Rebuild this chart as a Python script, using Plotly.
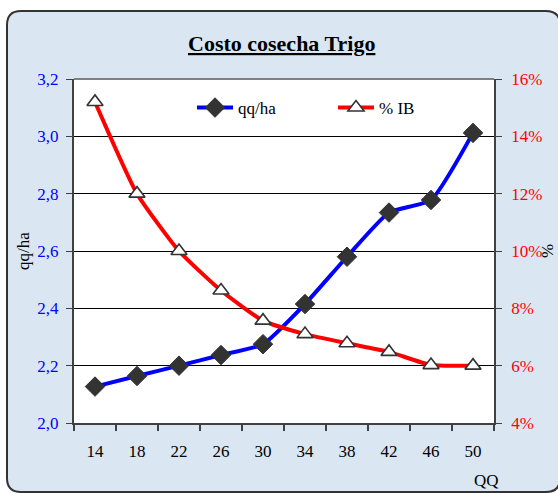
import plotly.graph_objects as go

# ---- data ----
QQ = [14, 18, 22, 26, 30, 34, 38, 42, 46, 50]
qq_ha = [2.127, 2.164, 2.200, 2.237, 2.275, 2.415, 2.580, 2.734, 2.778, 3.012]
pct_ib = [0.152, 0.120, 0.100, 0.0862, 0.0757, 0.0710, 0.0678, 0.0648, 0.0602, 0.0600]
left_ticks = [2.0, 2.2, 2.4, 2.6, 2.8, 3.0, 3.2]
right_ticks = [0.04, 0.06, 0.08, 0.10, 0.12, 0.14, 0.16]

cats = [str(v) for v in QQ]
FONT = "Liberation Serif, Times New Roman, serif"

W, H = 558, 493
L, R, T, B = 74, 64, 79, 70
pw, ph = W - L - R, H - T - B

def px(x):
    return (x - L) / pw

def py(y):
    return (H - B - y) / ph

fig = go.Figure()
fig.add_trace(go.Scatter(
    x=cats, y=qq_ha, name="qq/ha", mode="lines+markers",
    line=dict(color="#0000ff", width=4, shape="spline", smoothing=0.5),
    marker=dict(symbol="diamond", size=15, color="#333333",
                line=dict(color="#333333", width=1)),
    yaxis="y",
))
fig.add_trace(go.Scatter(
    x=cats, y=pct_ib, name="% IB", mode="lines+markers",
    line=dict(color="#ff0000", width=4, shape="spline", smoothing=0.5),
    marker=dict(symbol="triangle-up", size=14, color="white",
                line=dict(color="#333333", width=1.6)),
    yaxis="y2",
))

# frame with rounded corners (pixels -> paper)
x0, x1, y0, y1, r = 7, 560, 11, 492, 14
rx, ry = r / pw, r / ph
fx0, fx1, fy0, fy1 = px(x0), px(x1), py(y1), py(y0)
path = (f"M {fx0+rx},{fy1} L {fx1-rx},{fy1} Q {fx1},{fy1} {fx1},{fy1-ry} "
        f"L {fx1},{fy0+ry} Q {fx1},{fy0} {fx1-rx},{fy0} L {fx0+rx},{fy0} "
        f"Q {fx0},{fy0} {fx0},{fy0+ry} L {fx0},{fy1-ry} Q {fx0},{fy1} {fx0+rx},{fy1} Z")

n = len(cats)
fig.update_layout(
    width=W, height=H,
    margin=dict(l=L, r=R, t=T, b=B, autoexpand=False),
    paper_bgcolor="white", plot_bgcolor="white",
    separators=",.",
    font=dict(family=FONT, size=17, color="black"),
    showlegend=True,
    legend=dict(orientation="h", x=px(192), xanchor="left", y=py(108), yanchor="middle",
                bgcolor="rgba(0,0,0,0)", font=dict(family=FONT, size=17, color="black"),
                entrywidth=90, entrywidthmode="pixels", itemwidth=36),
    xaxis=dict(type="category", range=[-0.5, n - 0.5], showline=True,
               linecolor="#404040", linewidth=2, ticks="outside", tickson="boundaries",
               ticklen=6, tickcolor="#404040", tickwidth=1.5, showgrid=False,
               tickfont=dict(family=FONT, size=17, color="black"), ticklabelstandoff=12),
    xaxis2=dict(overlaying="x", range=[-0.5, n - 0.5], showline=False, showgrid=False,
                zeroline=False, ticks="inside", ticklen=7, tickcolor="#404040", tickwidth=1.5,
                tickvals=[i + 0.5 for i in range(n - 1)], showticklabels=False, side="bottom"),
    yaxis=dict(range=[left_ticks[0], left_ticks[-1]], tickvals=left_ticks, tickformat=".1f",
               showline=True, linecolor="#404040", linewidth=2, ticks="outside", ticklen=6,
               tickcolor="#404040", showgrid=True, gridcolor="black", gridwidth=1,
               zeroline=False, tickfont=dict(family=FONT, size=17, color="#0000ff"),
               ticklabelstandoff=4),
    yaxis2=dict(range=[right_ticks[0], right_ticks[-1]], tickvals=right_ticks, tickformat=".0%",
                overlaying="y", side="right", showline=True, linecolor="#404040", linewidth=1.5,
                ticks="outside", ticklen=6, tickcolor="#404040", showgrid=False, zeroline=False,
                tickfont=dict(family=FONT, size=17, color="#ff0000"), ticklabelstandoff=6),
    shapes=[
        dict(type="path", path=path, xref="paper", yref="paper", layer="below",
             fillcolor="#dae7f3", line=dict(color="#333333", width=2)),
        dict(type="rect", x0=0, x1=1, y0=0, y1=1, xref="paper", yref="paper", layer="below",
             fillcolor="white", line=dict(width=0)),
        dict(type="line", x0=0, x1=1, y0=1, y1=1, xref="paper", yref="paper",
             line=dict(color="#808080", width=2)),
    ],
    annotations=[
        dict(text="<b><u>Costo cosecha Trigo</u></b>", x=px(281), y=py(43), xref="paper",
             yref="paper", xanchor="center", yanchor="middle", showarrow=False,
             font=dict(family=FONT, size=22, color="black")),
        dict(text="qq/ha", x=px(23), y=py(251), xref="paper", yref="paper", showarrow=False,
             xanchor="center", yanchor="middle", textangle=-90,
             font=dict(family=FONT, size=17, color="black")),
        dict(text="%", x=px(547), y=py(251), xref="paper", yref="paper", showarrow=False,
             xanchor="center", yanchor="middle", textangle=-90,
             font=dict(family=FONT, size=17, color="black")),
        dict(text="QQ", x=px(486), y=py(480), xref="paper", yref="paper", showarrow=False,
             xanchor="center", yanchor="middle",
             font=dict(family=FONT, size=17, color="black")),
    ],
)

fig.write_html("out.html", config={"displayModeBar": False},
               post_script="document.body.style.margin='0';")
